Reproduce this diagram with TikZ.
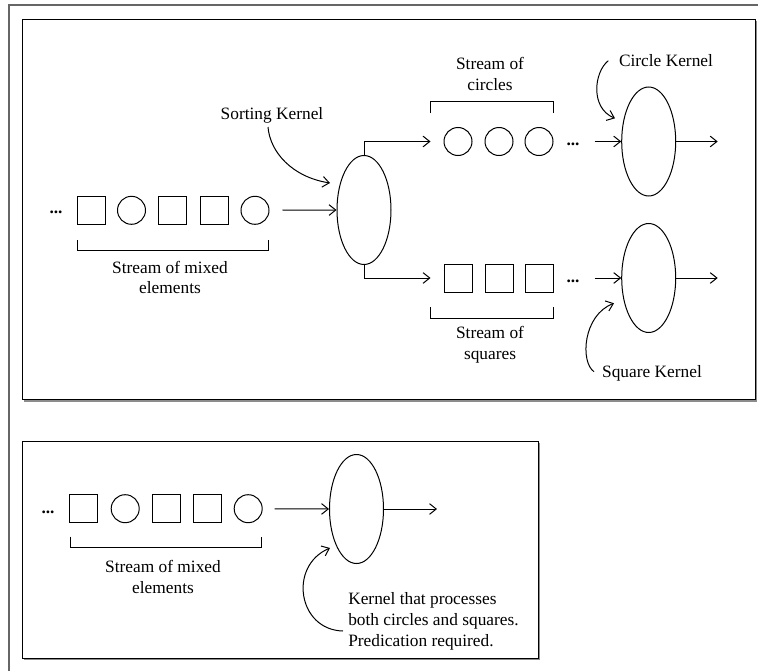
\documentclass[tikz,border=0pt]{standalone}
\usepackage{fontspec}
\setmainfont{Liberation Serif}
\usetikzlibrary{shapes.geometric,arrows.meta}
\begin{document}
\begin{tikzpicture}[x=0.75pt,y=-0.75pt,
  every node/.style={font=\fontsize{13pt}{15.7pt}\selectfont},
  ln/.style={line width=0.75pt},
  arr/.style={ln,-{Straight Barb[length=5pt,width=8pt]}},
  sq/.style={draw,ln,rectangle,minimum size=21pt,inner sep=0pt},
  ci/.style={draw,ln,circle,minimum size=21pt,inner sep=0pt},
  kern/.style={draw,ln,ellipse,minimum width=40.5pt,minimum height=81.75pt,inner sep=0pt},
  lbl/.style={align=center,inner sep=0pt},
  dots/.style={inner sep=0pt,anchor=base,font=\fontsize{13pt}{15.7pt}\selectfont\bfseries},
  frame/.style={draw=black!60,line width=1.2pt},
  shadow/.style={draw=black!45,line width=0.9pt}]
\useasboundingbox (0,0) rectangle (758,671);

% outer frame
\draw[frame] (758,5) -- (9,5) -- (9,671);

% top box
\draw[shadow] (756.6,20.5) -- (756.6,401) -- (24,401);
\draw[ln] (22.7,19) rectangle (755,399.5);

% mixed stream (top)
\node[dots] (d1) at (56,213) {...};
\node[sq] (m1) at (91.3,210.3) {};
\node[ci] (m2) at (131.5,210.3) {};
\node[sq] (m3) at (172,210.3) {};
\node[sq] (m4) at (214,210.3) {};
\node[ci] (m5) at (255,210.3) {};
\draw[ln] (77,240) -- (77,250) -- (268,250) -- (268,240);
\node[lbl] (mixlbl) at (170,277.5) {Stream of mixed\\elements};

% sorting kernel
\node[kern] (sort) at (364,210) {};
\draw[arr, shorten <=9.75pt] (m5.east) -- (sort.west);
\node[lbl] (sortlbl) at (272,115) {Sorting Kernel};
\coordinate (s0) at (268,127);
\coordinate (s1) at (330,183);
\draw[arr] (s0) .. controls (270,152) and (292,177) .. (s1);

% circles stream
\node[ci] (c1) at (458,141.5) {};
\node[ci] (c2) at (499,141.5) {};
\node[ci] (c3) at (539,141.5) {};
\node[dots] (d2) at (573,145) {...};
\draw[arr, shorten >=9.75pt] (sort.north) |- (c1.west);
\draw[ln] (430.7,113) -- (430.7,101.7) -- (553.3,101.7) -- (553.3,113);
\node[lbl] (circlbl) at (490,74) {Stream of\\circles};

% squares stream
\node[sq] (q1) at (458,278) {};
\node[sq] (q2) at (499,278) {};
\node[sq] (q3) at (539,278) {};
\node[dots] (d3) at (573,282) {...};
\draw[arr, shorten >=9.75pt] (sort.south) |- (q1.west);
\draw[ln] (430.7,307.3) -- (430.7,318.7) -- (553.3,318.7) -- (553.3,307.3);
\node[lbl] (sqlbl) at (490,345) {Stream of\\squares};

% circle kernel
\node[kern] (ck) at (648.7,141.5) {};
\draw[arr, shorten <=30.75pt] (c3.east) -- (ck.west);
\coordinate (co) at (717.7,141.5);
\draw[arr] (ck.east) -- (co);
\node[lbl] (cklbl) at (666,61) {Circle Kernel};
\coordinate (k0) at (608.3,60.7);
\coordinate (k1) at (615,118.3);
\draw[arr] (k0) .. controls (594,72) and (590,108) .. (k1);

% square kernel
\node[kern] (qk) at (648.7,278) {};
\draw[arr, shorten <=30.75pt] (q3.east) -- (qk.west);
\coordinate (qo) at (717.7,278);
\draw[arr] (qk.east) -- (qo);
\node[lbl] (qklbl) at (652,373) {Square Kernel};
\coordinate (p0) at (594,371.7);
\coordinate (p1) at (614,303.3);
\draw[arr] (p0) .. controls (580,362) and (583,315) .. (p1);

% bottom box
\draw[shadow] (539.6,442.5) -- (539.6,659.5) -- (24,659.5);
\draw[ln] (22.7,441) rectangle (538,658);

\node[dots] (e0) at (48,513) {...};
\node[sq] (b1) at (83.8,508.7) {};
\node[ci] (b2) at (125.2,508.7) {};
\node[sq] (b3) at (166.2,508.7) {};
\node[sq] (b4) at (207.3,508.7) {};
\node[ci] (b5) at (248.2,508.7) {};
\draw[ln] (70,536.7) -- (70,547.3) -- (261.7,547.3) -- (261.7,536.7);
\node[lbl] (bmixlbl) at (163,577) {Stream of mixed\\elements};

\node[kern] (both) at (356.5,509) {};
\draw[arr, shorten <=9pt] (b5.east) -- (both.west);
\coordinate (bo) at (437,509);
\draw[arr] (both.east) -- (bo);
\node[lbl, align=left, anchor=west] (bothlbl) at (348,621) {Kernel that processes\\both circles and squares.\\Predication required.};
\coordinate (r0) at (343,631);
\coordinate (r1) at (330,548);
\draw[arr] (r0) .. controls (298,630) and (288,566) .. (r1);
\end{tikzpicture}
\end{document}
